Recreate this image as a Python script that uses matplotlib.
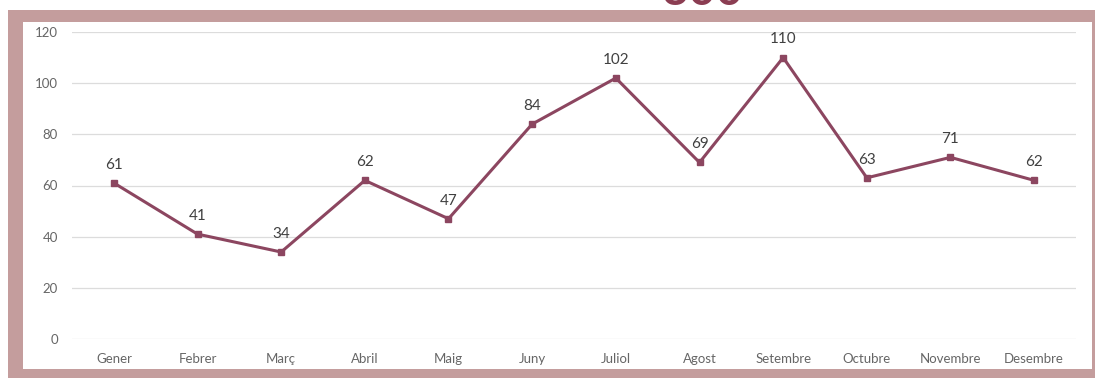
import matplotlib.pyplot as plt
from matplotlib.patches import Rectangle

months = ["Gener", "Febrer", "Març", "Abril", "Maig", "Juny", "Juliol",
          "Agost", "Setembre", "Octubre", "Novembre", "Desembre"]
values = [61, 41, 34, 62, 47, 84, 102, 69, 110, 63, 71, 62]
y_ticks = [0, 20, 40, 60, 80, 100, 120]

line_color = "#8c4660"
frame_color = "#c49d9d"
W, H = 1095, 378

plt.rcParams['font.family'] = ['Lato', 'DejaVu Sans']

fig = plt.figure(figsize=(W / 100, H / 100), dpi=100)
fig.patch.set_facecolor("white")

# pink frame around the chart panel (pixel coords -> figure fraction)
def px_rect(x0, y0, x1, y1):
    return Rectangle((x0 / W, 1 - y1 / H), (x1 - x0) / W, (y1 - y0) / H,
                     transform=fig.transFigure, facecolor=frame_color,
                     edgecolor="none", zorder=0)

fig.patches.append(px_rect(8, 10, W, 22))      # top
fig.patches.append(px_rect(8, 10, 23, H))      # left
fig.patches.append(px_rect(8, 369, W, H))      # bottom
fig.patches.append(px_rect(1092, 10, W, H))    # right

# big heading, only its lower edge shows above the frame
fig.text(702 / W, 1 - 5 / H, "300", ha="center", va="baseline",
         fontsize=34, fontweight="bold", color="#8b3d52")

ax = fig.add_axes([72 / W, (H - 339) / H, (1076 - 72) / W, (339 - 32) / H])
ax.set_facecolor("none")
x = list(range(len(months)))
ax.plot(x, values, color=line_color, linewidth=2.2, marker="s", markersize=5,
        zorder=3)
for xi, v in zip(x, values):
    ax.annotate(str(v), (xi, v), xytext=(0, 8), textcoords="offset points",
                ha="center", va="bottom", fontsize=11, color="#404040")

ax.set_xlim(-0.5, len(months) - 0.5)
ax.set_ylim(0, 120)
ax.set_yticks(y_ticks)
ax.set_xticks(x)
ax.set_xticklabels(months)
ax.grid(axis="y", color="#dcdcdc", linewidth=0.9)
ax.set_axisbelow(True)
for s in ax.spines.values():
    s.set_visible(False)
ax.tick_params(axis="both", length=0, labelsize=9.5, labelcolor="#666666")
ax.tick_params(axis="y", pad=10)
ax.tick_params(axis="x", pad=10)

plt.savefig("out.png", dpi=100)
